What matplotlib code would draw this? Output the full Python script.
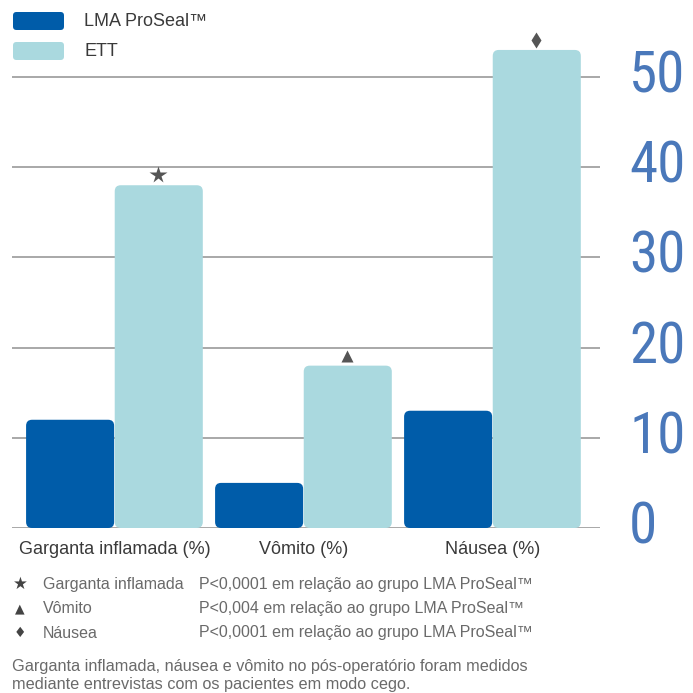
import matplotlib
matplotlib.use('Agg')
import matplotlib.pyplot as plt
from matplotlib.patches import FancyBboxPatch
from matplotlib import font_manager
import numpy as np

plt.rcParams['font.family'] = ['Liberation Sans', 'DejaVu Sans']

# dados
categorias = ['Garganta inflamada (%)', 'Vômito (%)', 'Náusea (%)']
lma = [12, 5, 13]
ett = [38, 18, 53]
marcadores = ['*', '^', 'd']
series = ['LMA ProSeal™', 'ETT']
yticks = [0, 10, 20, 30, 40, 50]

COR_LMA = '#005ca9'
COR_ETT = '#aad9df'
COR_GRADE = '#a8a8a8'
COR_EIXO = '#4a78ba'
COR_TEXTO = '#3a3a3a'
COR_NOTA = '#6a6a6a'

# fonte estreita (estática) para os números do eixo
disponiveis = {f.name for f in font_manager.fontManager.ttflist}
preferidas = ['Roboto Condensed', 'Liberation Sans Narrow', 'Arial Narrow',
              'Asap Condensed', 'Barlow Semi Condensed', 'Barlow Condensed']
estreita = [n for n in preferidas if n in disponiveis][:1]
familia_eixo = estreita + ['Liberation Sans', 'DejaVu Sans']
tam_eixo = 41 if estreita else 34

W, H = 693, 693
fig = plt.figure(figsize=(6.93, 6.93), dpi=100)

# eixo: esquerda 12px, direita 600px, base 528px
ymax = 58
px_por_un = 9.02
ax = fig.add_axes([12 / W, (H - 528) / H, 588 / W, ymax * px_por_un / H])
ax.set_xlim(-0.542, 2.569)
ax.set_ylim(0, ymax)
for s in ax.spines.values():
    s.set_visible(False)

for v in yticks:
    ax.axhline(v, color=COR_GRADE, lw=1.4, zorder=1)

x = np.arange(len(categorias))
largura = 0.466
gap = 0.003
# cantos arredondados ~6px
r_x = 6 / 189
aspecto = 189 / px_por_un

def barra(x0, h, cor):
    p = FancyBboxPatch((x0, 0), largura, h,
                       boxstyle=f"round,pad=0,rounding_size={r_x}",
                       mutation_aspect=aspecto, fc=cor, ec='none', zorder=2)
    ax.add_patch(p)

tam_marc = {'*': 13, '^': 9, 'd': 8}
for i in range(len(categorias)):
    barra(x[i] - largura - gap / 2, lma[i], COR_LMA)
    barra(x[i] + gap / 2, ett[i], COR_ETT)
    ax.plot(x[i] + largura / 2, ett[i] + 10 / px_por_un, marker=marcadores[i],
            color='#555555', ms=tam_marc[marcadores[i]], mec='none',
            zorder=3, clip_on=False)

ax.set_xticks(x)
ax.set_xticklabels(categorias, fontsize=13, color=COR_TEXTO)
ax.tick_params(axis='x', length=0, pad=9)

ax.yaxis.tick_right()
ax.set_yticks(yticks)
ax.set_yticklabels([str(v) for v in yticks], fontsize=tam_eixo, color=COR_EIXO,
                   family=familia_eixo, va='center')
ax.tick_params(axis='y', length=0, pad=21)

# legenda manual
for k, (nome, cor) in enumerate(zip(series, [COR_LMA, COR_ETT])):
    y_px = 21 + k * 30
    fig.patches.append(FancyBboxPatch((13 / W, (H - y_px - 9) / H), 51 / W, 18 / H,
                                      boxstyle="round,pad=0,rounding_size=0.005",
                                      transform=fig.transFigure, fc=cor, ec='none'))
    fig.text(84 / W, (H - y_px) / H, nome, fontsize=13, color=COR_TEXTO, va='center')

# notas de significância
simbolos = ['★', '▲', '♦']
tam_simb = [12, 9, 10]
nomes = ['Garganta inflamada', 'Vômito', 'Náusea']
pvals = ['P<0,0001 em relação ao grupo LMA ProSeal™',
         'P<0,004 em relação ao grupo LMA ProSeal™',
         'P<0,0001 em relação ao grupo LMA ProSeal™']
for k in range(3):
    y_px = 584 + k * 24.5
    fig.text(20 / W, (H - y_px) / H, simbolos[k], fontsize=tam_simb[k], color='#444444',
             va='center', ha='center', family=['DejaVu Sans'])
    fig.text(43 / W, (H - y_px) / H, nomes[k], fontsize=11.5, color=COR_NOTA, va='center')
    fig.text(199 / W, (H - y_px) / H, pvals[k], fontsize=11.5, color=COR_NOTA, va='center')

fig.text(12 / W, (H - 675) / H,
         'Garganta inflamada, náusea e vômito no pós-operatório foram medidos\n'
         'mediante entrevistas com os pacientes em modo cego.',
         fontsize=11.7, color=COR_NOTA, va='center', linespacing=1.25)

fig.savefig('out.png', dpi=100)
